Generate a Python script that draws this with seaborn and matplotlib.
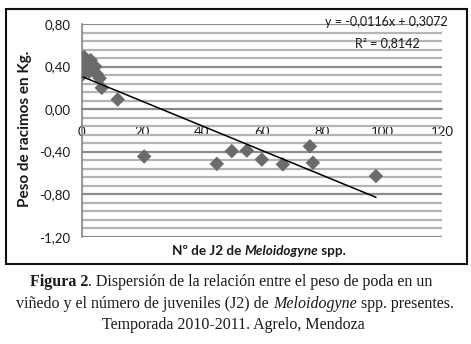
import numpy as np
import pandas as pd
import matplotlib
matplotlib.use("Agg")
import matplotlib.pyplot as plt
import seaborn as sns
from matplotlib.ticker import MultipleLocator, FuncFormatter
from matplotlib.patches import Rectangle

# Number of J2 juveniles per sample and pruning weight (kg)
juveniles = [0.8, 3.0, 4.5, 0.5, 2.5, 5.0, 6.0, 6.7, 12.0, 1.5,
             20.8, 45.0, 50.0, 55.0, 60.0, 67.0, 76.0, 77.0, 98.0]
weight = [0.49, 0.46, 0.40, 0.33, 0.35, 0.33, 0.29, 0.20, 0.09, 0.42,
          -0.445, -0.515, -0.395, -0.39, -0.475, -0.52, -0.35, -0.505, -0.63]

# Linear trend reported on the chart
slope = -0.0116
intercept = 0.3072
r_squared = 0.8142

x_ticks = [0, 20, 40, 60, 80, 100, 120]
y_ticks = [0.80, 0.40, 0.00, -0.40, -0.80, -1.20]

df = pd.DataFrame({"juveniles": juveniles, "weight": weight})

sns.set_theme(style="white")
plt.rcParams["font.family"] = ["Lato", "DejaVu Sans"]

W, H = 471, 344
fig = plt.figure(figsize=(W / 100, H / 100), dpi=100)

ax = fig.add_axes([81.7 / W, 1 - 236.7 / H, (442 - 81.7) / W, (236.7 - 24) / H])

# Outer chart frame around the plot block (above the caption)
frame = Rectangle((6 / W, 1 - 264 / H), 461 / W, 255 / H,
                  transform=fig.transFigure, facecolor="none",
                  edgecolor="#111111", linewidth=1.5, clip_on=False, zorder=20)
ax.add_patch(frame)

sns.scatterplot(data=df, x="juveniles", y="weight", marker="D", s=55,
                color="#6b6b6b", edgecolor="none", ax=ax, zorder=3, legend=False)

xs = np.array([min(juveniles), max(juveniles)])
sns.lineplot(x=xs, y=slope * xs + intercept, color="black", linewidth=1.1,
             ax=ax, zorder=4)

ax.set_xlim(0, 120)
ax.set_ylim(-1.2, 0.8)
ax.set_xticks(x_ticks)
ax.set_yticks(y_ticks)
ax.yaxis.set_minor_locator(MultipleLocator(0.08))
ax.yaxis.set_major_formatter(FuncFormatter(lambda v, p: f"{v:.2f}".replace(".", ",").replace("-0,00", "0,00")))

ax.grid(False)
ax.grid(axis="y", which="minor", color="#b4b4b4", linewidth=1.6, zorder=0)
ax.grid(axis="y", which="major", color="#8c8c8c", linewidth=1.6, zorder=0)
ax.set_axisbelow(True)

for side in ("top", "right"):
    ax.spines[side].set_visible(False)
ax.spines["bottom"].set_position(("data", 0))
for side in ("left", "bottom"):
    ax.spines[side].set_color("#868686")
    ax.spines[side].set_linewidth(1.2)

ax.tick_params(axis="both", which="major", direction="out", length=4,
               width=1.2, color="#868686", labelsize=9.5, labelcolor="#1a1a1a")
ax.tick_params(axis="y", which="minor", length=0)
ax.tick_params(axis="x", pad=8)
ax.tick_params(axis="y", pad=4)

ax.set_xlabel("")
ax.set_ylabel("")
fig.text(25 / W, 1 - 129 / H, "Peso de racimos en Kg.", rotation=90,
         ha="center", va="center", fontsize=11, fontweight="bold", color="#1a1a1a")

fig.canvas.draw()
renderer = fig.canvas.get_renderer()


def draw_line(segments, xc, yc, size, family):
    """Draw a row of differently styled text pieces, centred on (xc, yc) in pixels."""
    texts = []
    for txt, weight_, style in segments:
        t = fig.text(0, 0, txt, fontsize=size, fontweight=weight_, fontstyle=style,
                     family=family, ha="left", va="center", color="#1a1a1a")
        texts.append(t)
    widths = [t.get_window_extent(renderer).width for t in texts]
    total = sum(widths)
    x = xc - total / 2
    for t, w in zip(texts, widths):
        t.set_position((x / W, 1 - yc / H))
        x += w


draw_line([("Nº de J2 de ", "bold", "normal"), ("Meloidogyne", "bold", "italic"),
           (" spp.", "bold", "normal")], 259, 251, 9.7, ["Lato", "DejaVu Sans"])

ax.text(1.017, 1.009, f"y = {slope:.4f}x + {intercept:.4f}".replace(".", ","),
        transform=ax.transAxes, ha="right", va="center", fontsize=9,
        color="#1a1a1a", clip_on=False)
ax.text(0.939, 0.91, f"R² = {r_squared:.4f}".replace(".", ","),
        transform=ax.transAxes, ha="right", va="center", fontsize=9, color="#1a1a1a")

serif = ["Liberation Serif", "DejaVu Serif"]
draw_line([("Figura 2", "bold", "normal"),
           (". Dispersión de la relación entre el peso de poda en un", "normal", "normal")],
          231, 282, 11.5, serif)
draw_line([("viñedo y el número de juveniles (J2) de ", "normal", "normal"),
           ("Meloidogyne", "normal", "italic"), (" spp. presentes.", "normal", "normal")],
          235, 303.5, 11.5, serif)
draw_line([("Temporada 2010-2011. Agrelo, Mendoza", "normal", "normal")],
          233, 325, 11.5, serif)

fig.savefig("out.png", dpi=100, facecolor="white")
